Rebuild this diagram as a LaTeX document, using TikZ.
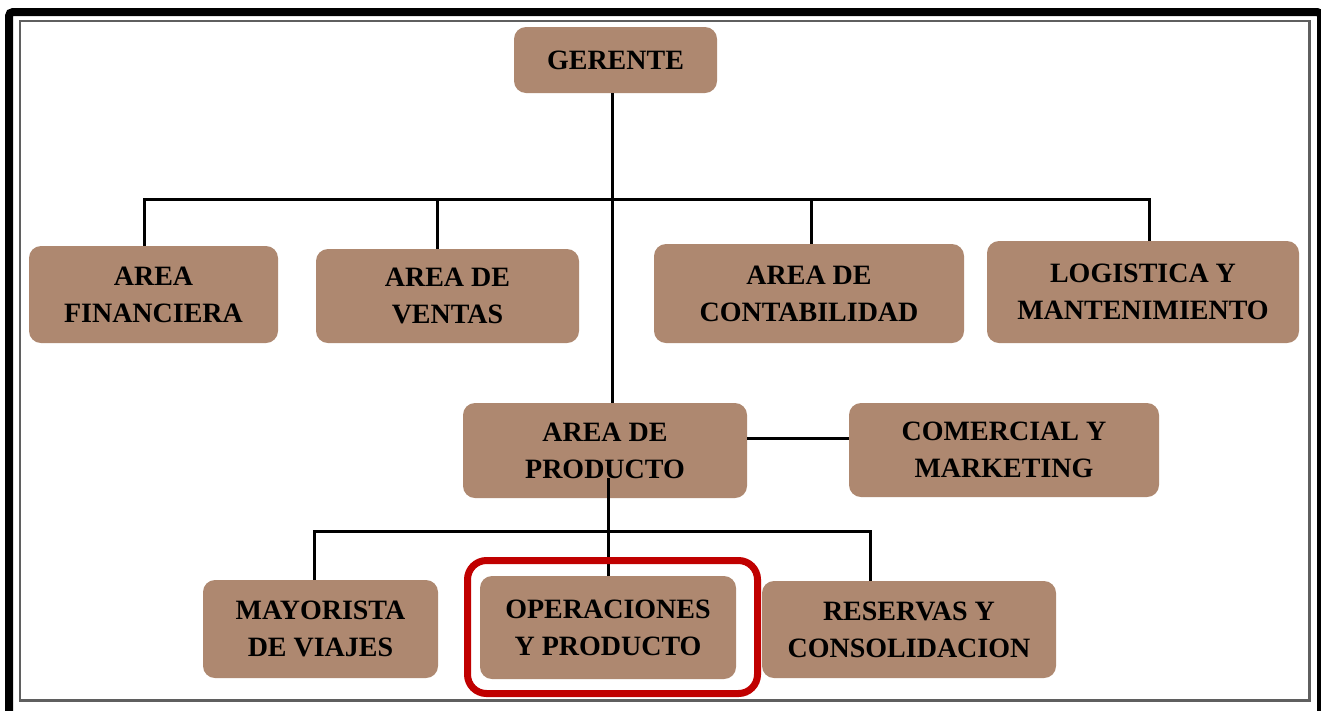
\documentclass[tikz,border=0pt]{standalone}
\usepackage{fontspec}
\setmainfont{Liberation Serif}
\definecolor{boxfill}{RGB}{174,136,112}
\definecolor{frameinner}{RGB}{95,95,95}
\definecolor{hilite}{RGB}{192,0,0}
\begin{document}
\begin{tikzpicture}[x=1pt,y=-1pt,
  orgbox/.style={fill=boxfill, draw=none, rounded corners=12pt, inner sep=0pt,
    align=center, font=\fontsize{28}{37}\selectfont\bfseries},
  link/.style={line width=3pt, draw=black}]
\clip (0,0) rectangle (1321,710);
\fill[white] (0,0) rectangle (1321,710);
% frames
\draw[line width=8pt, rounded corners=4pt] (9,12) rectangle (1321,740);
\draw[line width=2.5pt, frameinner] (20,21) rectangle (1309.5,700.5);
% boxes
\node[orgbox, minimum width=203pt, minimum height=66pt] (ger) at (615.5,60) {GERENTE};
\node[orgbox, minimum width=249pt, minimum height=97pt] (fin) at (153.5,294.5) {AREA\\FINANCIERA};
\node[orgbox, minimum width=263pt, minimum height=94pt] (ven) at (447.5,296) {AREA DE\\VENTAS};
\node[orgbox, minimum width=310pt, minimum height=99pt] (con) at (809,293.5) {AREA DE\\CONTABILIDAD};
\node[orgbox, minimum width=312pt, minimum height=102pt] (log) at (1143,292) {LOGISTICA Y\\MANTENIMIENTO};
\node[orgbox, minimum width=284pt, minimum height=95pt] (prod) at (605,450.5) {AREA DE\\PRODUCTO};
\node[orgbox, minimum width=310pt, minimum height=94pt] (com) at (1004,450) {COMERCIAL Y\\MARKETING};
\node[orgbox, minimum width=235pt, minimum height=98pt] (may) at (320.5,629) {MAYORISTA\\DE VIAJES};
\node[orgbox, minimum width=256pt, minimum height=103pt] (oper) at (608,627.5) {OPERACIONES\\Y PRODUCTO};
\node[orgbox, minimum width=294pt, minimum height=97pt] (res) at (909,629.5) {RESERVAS Y\\CONSOLIDACION};
% connectors
\coordinate (bt) at (612,199);
\draw[link] ([xshift=-3.5pt]ger.south) -- ([xshift=-3.5pt]ger.south |- prod.north);
\draw[link] ([xshift=-9.5pt]fin.north) |- (bt) -| ([xshift=6pt]log.north);
\draw[link] ([xshift=-10.5pt]ven.north) -- ([xshift=-10.5pt]ven.north |- bt);
\draw[link] ([xshift=2pt]con.north) -- ([xshift=2pt]con.north |- bt);
\draw[link] ([yshift=12.5pt]prod.east) -- ([yshift=12.5pt]prod.east -| com.west);
\coordinate (pin) at (608,478);
\coordinate (bl) at (608,531);
\draw[link] (pin) -- (oper.north);
\draw[link] ([xshift=-6.5pt]may.north) |- (bl) -| ([xshift=-39pt]res.north);
% highlight
\node[draw=hilite, line width=7pt, rounded corners=19pt, minimum width=290pt, minimum height=133pt, inner sep=0pt] (hl) at (612.5,627) {};
\end{tikzpicture}
\end{document}
